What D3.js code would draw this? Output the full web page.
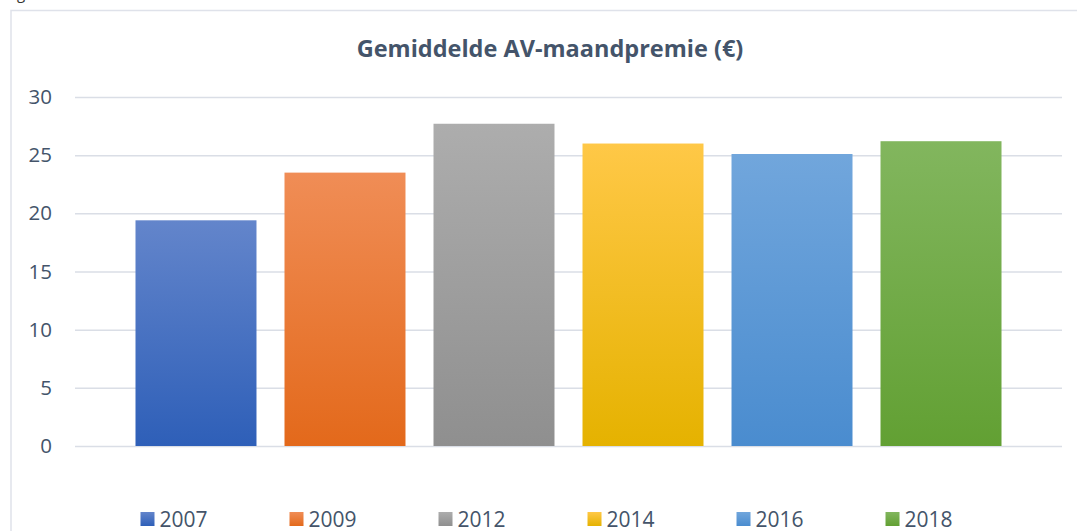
<!DOCTYPE html>
<html>
<head>
<meta charset="utf-8">
<script src="https://cdn.jsdelivr.net/npm/d3@7"></script>
<style>
  html, body { margin: 0; padding: 0; background: #ffffff; }
  svg { display: block; }
</style>
</head>
<body>
<svg id="chart" width="1077" height="531"></svg>
<script>
const title = "Gemiddelde AV-maandpremie (€)";
const years = ["2007", "2009", "2012", "2014", "2016", "2018"];
const values = [19.4, 23.5, 27.7, 26.0, 25.1, 26.2];
const yTicks = [0, 5, 10, 15, 20, 25, 30];
const topColors = ["#6385cb", "#f08d56", "#adadad", "#ffc847", "#71a6dc", "#82b65e"];
const bottomColors = ["#2e5fb8", "#e3691b", "#8f8f8f", "#e5b200", "#4a8ccf", "#62a033"];

const svg = d3.select("#chart");
const textColor = "#44546a";
const gridColor = "#dadee6";
const font = "'Open Sans', 'Liberation Sans', sans-serif";

// border of the chart area
svg.append("rect")
  .attr("x", 11).attr("y", 10.5)
  .attr("width", 1080).attr("height", 540)
  .attr("fill", "none").attr("stroke", "#dfe2ea").attr("stroke-width", 1.5);

// fragment of a caption above (only the descender shows)
svg.append("text").attr("x", 17).attr("y", -1)
  .attr("font-family", font).attr("font-size", 15).attr("fill", "#333")
  .text("g");

const x = d3.scaleBand().domain(years).range([75, 1062])
  .paddingInner(0.188).paddingOuter(0.406);
const y = d3.scaleLinear().domain([0, 30]).range([446, 97]);

// gradients
const defs = svg.append("defs");
years.forEach((yr, i) => {
  const g = defs.append("linearGradient").attr("id", "grad" + i)
    .attr("x1", 0).attr("y1", 0).attr("x2", 0).attr("y2", 1);
  g.append("stop").attr("offset", "0%").attr("stop-color", topColors[i]);
  g.append("stop").attr("offset", "100%").attr("stop-color", bottomColors[i]);
});

// gridlines
const yAxis = d3.axisLeft(y).tickValues(yTicks).tickSize(-(1062 - 75)).tickPadding(23);
const ga = svg.append("g").attr("transform", "translate(75,0)").call(yAxis);
ga.select(".domain").remove();
ga.selectAll(".tick line").attr("stroke", gridColor).attr("stroke-width", 1.5);
ga.selectAll(".tick text")
  .attr("fill", textColor).attr("font-family", font).attr("font-size", 20.5);

// bars
svg.append("g").selectAll("rect").data(years).join("rect")
  .attr("x", d => x(d))
  .attr("width", x.bandwidth())
  .attr("y", (d, i) => y(values[i]))
  .attr("height", (d, i) => y(0) - y(values[i]))
  .attr("fill", (d, i) => `url(#grad${i})`);

// title
svg.append("text")
  .attr("x", 550).attr("y", 57)
  .attr("text-anchor", "middle")
  .attr("font-family", font).attr("font-weight", "bold").attr("font-size", 23.5)
  .attr("fill", textColor)
  .text(title);

// legend
const lg = svg.append("g").selectAll("g").data(years).join("g")
  .attr("transform", d => `translate(${x(d) + 5},512)`);
lg.append("rect").attr("width", 14).attr("height", 14)
  .attr("fill", (d, i) => `url(#grad${i})`);
lg.append("text").attr("x", 19).attr("y", 14.5)
  .attr("font-family", font).attr("font-size", 21).attr("fill", textColor)
  .text(d => d);
</script>
</body>
</html>
